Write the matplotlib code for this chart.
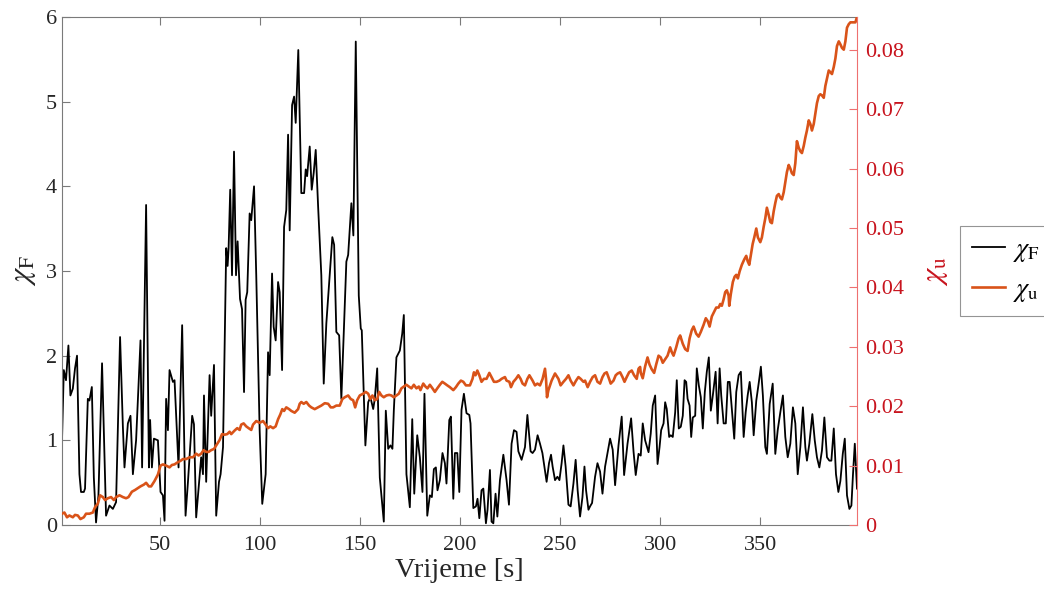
import matplotlib
matplotlib.use("Agg")
import matplotlib.pyplot as plt
from matplotlib.ticker import FuncFormatter

plt.rcParams['font.family'] = ['Liberation Serif', 'DejaVu Serif']
plt.rcParams['mathtext.fontset'] = 'stix'

# chi_F (black) : time [s] and value
tF = [1.3, 2.2, 3.3, 4.5, 5.5, 6.7, 7.8, 8.8, 10.0, 10.8, 12.2, 12.8, 14.2, 15.0, 16.2, 17.2, 18.3, 19.5,
      21.3, 23.3, 25.0, 26.7, 28.3, 30.3, 31.7, 32.5, 34.2, 35.5, 36.7, 38.3, 40.5, 41.3, 43.3, 44.7, 45.3,
      46.2, 47.2, 49.2, 50.5, 51.7, 52.5, 53.3, 54.2, 55.0, 56.7, 57.5, 59.5, 61.3, 63.0, 64.2, 66.3, 67.2,
      68.3, 69.2, 70.8, 71.7, 72.2, 73.3, 75.0, 75.8, 77.2, 78.3, 79.7, 80.5, 81.7, 83.3, 84.0, 84.5, 85.3,
      86.2, 87.2, 88.2, 89.0, 90.2, 91.2, 92.2, 93.0, 93.8, 95.0, 95.8, 97.2,
      98.3, 100.0, 101.3, 103.0, 104.2, 105.0, 106.2, 107.0, 108.0, 109.2, 110.0, 111.2, 112.2, 113.3,
      114.2, 115.0, 116.2, 117.2, 118.0, 119.3, 120.8, 122.2, 123.0, 123.7, 125.0, 126.0, 127.0, 128.0,
      129.2, 130.8, 132.0, 133.3, 135.0, 136.3, 137.2, 138.3, 139.7, 140.8, 143.3, 144.2, 145.8, 146.8,
      148.0, 149.5, 150.5, 151.0, 152.8, 154.2, 155.3, 156.7, 157.5, 158.7, 160.0, 162.0, 163.0, 164.2,
      165.3, 166.3, 167.0, 168.3, 170.0, 171.2, 172.0, 173.3, 175.0, 176.2, 177.2, 178.7, 180.0, 181.3,
      182.3, 183.7, 185.0, 186.0, 187.0, 188.0, 188.8,
      190.0, 191.3, 192.5, 193.3, 194.7, 195.5, 196.7, 197.5, 198.7, 199.7, 200.8, 202.0, 203.3, 204.7,
      205.3, 206.7, 208.0, 208.8, 209.7, 210.8, 211.7, 213.0, 213.8, 215.0, 215.8, 216.7, 217.8, 218.7,
      220.0, 221.7, 223.3, 224.5, 225.8, 227.0, 228.3, 229.2, 230.8, 232.5, 233.7, 235.3, 236.3, 237.5,
      238.8, 240.0, 241.2, 242.2, 243.3, 244.5, 245.5, 246.3, 247.5, 248.7, 249.7, 250.8, 251.7, 252.8,
      254.2, 255.3, 256.7, 257.8, 258.8, 260.0, 261.2, 262.2, 263.0, 264.2, 265.0, 266.0, 267.5, 268.7,
      270.0, 271.2, 272.5, 273.7, 275.0, 276.3, 277.5, 279.2, 280.8, 282.0, 283.7, 285.5, 286.7, 287.8,
      289.2, 290.3, 291.3, 292.5, 294.2, 295.3, 296.3, 297.5, 298.7, 299.7, 300.5, 301.7, 302.5, 303.3,
      304.5, 305.3, 306.3, 307.5, 308.3, 309.3, 310.3, 311.3, 312.2, 313.0, 313.7, 314.7, 315.5, 316.3,
      317.5, 318.3, 319.3, 320.3, 321.3, 322.3, 323.3, 324.3, 325.3, 326.3, 327.7, 328.7, 329.7, 330.5,
      331.7, 332.8, 333.8, 334.7, 335.8, 337.0, 338.0, 339.2, 340.3, 341.7, 342.7, 343.7, 344.7, 345.8,
      346.7, 348.0, 349.3, 350.3, 351.3, 352.5, 353.3, 354.7, 356.2, 357.5, 358.7, 360.0, 361.3, 362.5,
      363.7, 365.0, 366.3, 367.5, 368.7, 370.0, 371.3, 372.5, 373.3, 374.5, 376.0, 377.2, 378.3, 379.5,
      380.8, 382.0, 383.3, 384.5, 385.5, 386.7, 387.8, 389.0, 390.0, 391.2, 392.2, 393.3, 394.5, 395.5,
      396.3, 397.2, 398.3]
chiF = [1.00, 1.83, 1.71, 2.12, 1.53, 1.61, 1.85, 2.00, 0.60, 0.39, 0.39, 0.43, 1.49, 1.47, 1.63, 0.56, 0.03, 0.35,
        1.91, 0.11, 0.23, 0.19, 0.27, 2.22, 1.16, 0.68, 1.20, 1.29, 0.60, 1.00, 2.18, 0.68, 3.78, 0.68, 1.24,
        0.68, 1.02, 1.00, 0.39, 0.35, 0.05, 1.49, 1.12, 1.83, 1.69, 1.71, 0.68, 2.36, 0.11, 0.51, 1.29, 1.19,
        0.09, 0.35, 0.80, 0.60, 1.53, 0.51, 1.77, 1.29, 1.89, 0.11, 0.51, 0.60, 0.92, 3.27, 3.06, 3.27, 3.96,
        2.95, 4.41, 2.95, 3.35, 2.67, 2.55, 1.57, 2.66, 2.75, 3.68, 3.60, 4.00,
        2.95, 1.12, 0.25, 0.60, 2.04, 1.77, 2.97, 2.34, 2.18, 2.87, 2.75, 1.83, 3.52, 3.72,
        4.61, 3.48, 4.96, 5.06, 4.75, 5.61, 3.92, 3.92, 4.20, 4.12, 4.47, 3.96, 4.16, 4.43,
        3.76, 2.95, 1.67, 2.38, 2.95, 3.40, 3.31, 2.28, 2.24, 1.49, 3.11, 3.19, 3.80, 3.42,
        5.71, 2.71, 2.32, 2.30, 0.94, 1.45, 1.51, 1.37, 1.49, 1.85, 0.56, 0.04, 1.35, 0.90,
        0.94, 0.90, 1.35, 1.98, 2.06, 2.26, 2.48, 0.60, 0.21, 1.25, 0.37, 1.06, 0.80, 0.39,
        1.55, 0.11, 0.35, 0.33, 0.66, 0.68, 0.41,
        0.53, 0.85, 0.73, 0.49, 1.24, 1.28, 0.31, 0.85, 0.85, 0.39, 1.36, 1.55, 1.32, 1.30,
        1.20, 0.20, 0.22, 0.31, 0.08, 0.41, 0.43, 0.02, 0.18, 0.65, 0.04, 0.02, 0.37, 0.10,
        0.53, 0.83, 0.53, 0.24, 0.96, 1.12, 1.10, 0.87, 0.77, 0.92, 1.30, 0.87, 0.85, 0.89,
        1.06, 0.96, 0.85, 0.69, 0.51, 0.73, 0.83, 0.69, 0.53, 0.57, 0.53, 0.73, 0.94, 0.69,
        0.24, 0.22, 0.49, 0.77, 0.41, 0.10, 0.33, 0.69, 0.41, 0.18, 0.22, 0.26, 0.57, 0.73,
        0.63, 0.37, 0.69, 0.85, 1.02, 0.89, 0.47, 0.94, 1.28, 0.59, 0.96, 1.26, 0.87, 0.59,
        0.84, 0.82, 1.20, 1.00, 0.86, 1.08, 1.41, 1.53, 0.72, 0.92, 1.12, 1.20, 1.45, 1.37,
        1.04, 1.06, 1.04, 1.33, 1.71, 1.14, 1.16, 1.29, 1.71, 1.69, 1.49, 1.41, 1.04, 1.27,
        1.29, 1.85, 1.65, 1.51, 1.14, 1.57, 1.81, 1.98, 1.35, 1.53, 1.81, 1.20, 1.85, 1.53,
        1.20, 1.20, 1.69, 1.69, 1.37, 1.02, 1.57, 1.77, 1.81, 1.04, 1.33, 1.53, 1.69, 1.45,
        1.06, 1.47, 1.69, 1.87, 1.53, 0.92, 0.84, 1.43, 1.67, 0.84, 1.12, 1.33, 1.53, 1.04,
        0.80, 0.96, 1.39, 1.20, 0.60, 0.92, 1.39, 0.92, 0.76, 0.96, 1.31, 1.00, 0.80, 0.68,
        0.88, 1.27, 0.80, 0.76, 0.76, 1.14, 0.60, 0.39, 0.52, 0.84, 1.02, 0.35, 0.19, 0.23,
        0.60, 0.96, 0.43]

# chi_u (orange) : time [s] and value
tU = [1.3, 2.5, 3.8, 5.0, 6.7, 7.8, 9.2, 10.5, 12.2, 13.3, 15.0, 16.7, 17.8, 19.2, 20.3, 21.7, 22.8, 24.2,
      25.8, 27.2, 28.3, 30.0, 31.7, 33.3, 34.5, 36.2, 37.8, 39.2, 40.5, 42.2, 43.3, 44.7, 45.8, 47.5, 49.2,
      50.5, 51.7, 53.3, 55.0, 56.2, 57.5, 58.8, 60.5, 61.7, 63.3, 65.0, 66.7, 68.3, 69.5, 70.8, 72.0, 73.3,
      74.5, 75.8, 77.2, 78.3, 80.0, 81.2, 82.5, 83.8, 85.0, 85.8, 87.5, 88.8, 90.0, 90.8, 92.0, 93.3, 94.5,
      95.8, 96.7, 98.3, 100.0, 101.7, 103.0, 104.2, 105.3, 106.7, 108.0, 109.2, 110.3, 111.3, 112.2, 113.3,
      114.7, 115.8, 117.5, 119.2, 120.0, 120.8, 122.0, 123.3, 124.7, 125.8, 127.5, 129.2, 130.8, 132.5,
      134.2, 135.5, 136.7, 138.3, 140.0, 141.3, 142.5, 144.2, 145.5, 146.7, 147.7, 148.7, 150.0, 151.7,
      153.0, 154.2, 155.3, 156.3, 157.5, 158.7, 159.7, 160.8, 162.0, 163.3, 164.7, 165.8, 167.0, 168.3,
      169.5, 170.8, 172.0, 173.3, 174.5, 175.8, 177.0, 178.3, 179.5, 180.3, 181.7, 182.8, 183.8, 185.0,
      186.3, 187.5, 188.7, 190.0, 191.2,
      192.5, 193.7, 195.0, 196.7, 198.0, 199.2, 200.5, 201.7, 203.0, 205.0, 206.3, 207.0, 207.8, 208.7,
      209.7, 210.8, 212.0, 213.3, 214.7, 215.8, 217.0, 218.3, 219.7, 220.8, 222.5, 223.3, 224.7, 225.5,
      226.7, 228.0, 229.2, 230.3, 231.3, 232.5, 233.7, 234.7, 236.3, 237.5, 238.7, 240.0, 241.3, 242.5,
      243.0, 243.5, 244.2, 245.8, 247.5, 249.2, 250.3, 251.7, 253.0, 254.2, 255.3, 256.7, 258.0, 259.2,
      260.3, 261.7, 262.5, 263.8, 265.0, 266.3, 267.5, 268.7, 270.0, 271.2, 272.2, 273.3, 274.5, 275.3,
      276.7, 277.8, 278.8, 280.0, 281.2, 282.2, 283.3, 284.5, 285.8, 287.0, 288.3, 289.2, 290.0,
      290.3, 291.3, 292.5, 293.7, 294.7, 295.8, 297.0, 298.0, 299.2, 300.3, 301.3, 302.5, 303.7, 305.0,
      305.8, 306.7, 308.0, 309.2, 310.0, 311.3, 312.5, 313.7, 314.7, 315.8, 316.7, 318.0, 319.2, 320.3,
      321.7, 322.8, 323.8, 324.7, 325.8, 326.7, 328.0, 329.2, 330.0, 330.8, 331.7, 332.5, 333.3, 334.2,
      334.5, 335.3, 336.3, 337.2, 338.0, 338.8, 339.7, 340.8, 342.0, 343.0, 343.7, 344.5, 345.3, 346.2,
      347.0, 348.0, 348.8, 350.0, 350.8, 351.7, 352.5, 353.3, 354.2, 355.0, 355.8, 356.7, 357.5, 358.3,
      359.2, 360.0, 360.8, 361.7, 362.5, 363.3, 364.2, 365.0, 365.8, 366.7, 367.5, 368.3, 369.2, 370.0,
      370.8, 371.7, 372.5, 373.3, 374.2, 375.0, 375.8, 376.7, 377.5, 378.3, 379.2, 380.0, 380.8, 381.7,
      382.5, 383.3, 384.2, 385.0, 385.8, 386.7, 387.5, 388.3, 389.2, 390.0, 390.8, 391.7, 392.5, 393.3,
      394.2, 395.0, 395.8, 396.7, 397.5, 398.3]
chiU = [0.0019, 0.0021, 0.0013, 0.0016, 0.0013, 0.0017, 0.0016, 0.0010, 0.0013, 0.0019, 0.0019, 0.0021, 0.0030,
        0.0036, 0.0050, 0.0047, 0.0042, 0.0045, 0.0047, 0.0042, 0.0047, 0.0050, 0.0047, 0.0045, 0.0047, 0.0056,
        0.0059, 0.0062, 0.0065, 0.0068, 0.0071, 0.0065, 0.0065, 0.0074, 0.0085, 0.0100, 0.0102, 0.0100, 0.0097,
        0.0101, 0.0102, 0.0105, 0.0108, 0.0111, 0.0111, 0.0114, 0.0114, 0.0120, 0.0117, 0.0120, 0.0126, 0.0123,
        0.0123, 0.0126, 0.0128, 0.0134, 0.0143, 0.0153, 0.0152, 0.0153, 0.0157, 0.0153, 0.0159, 0.0163, 0.0160,
        0.0169, 0.0171, 0.0166, 0.0163, 0.0160, 0.0169, 0.0175, 0.0172, 0.0175, 0.0169, 0.0163, 0.0166, 0.0163,
        0.0166, 0.0178, 0.0186, 0.0195, 0.0192, 0.0198, 0.0195, 0.0192, 0.0189, 0.0195, 0.0204, 0.0207, 0.0204,
        0.0207, 0.0201, 0.0198, 0.0195, 0.0198, 0.0201, 0.0205, 0.0204, 0.0198, 0.0198, 0.0201, 0.0201, 0.0212,
        0.0215, 0.0218, 0.0212, 0.0210, 0.0198, 0.0210, 0.0218, 0.0221, 0.0224, 0.0221, 0.0212, 0.0218, 0.0210,
        0.0212, 0.0224, 0.0218, 0.0215, 0.0218, 0.0219, 0.0218, 0.0215, 0.0218, 0.0221, 0.0230, 0.0233, 0.0236,
        0.0233, 0.0230, 0.0236, 0.0230, 0.0233, 0.0227, 0.0238, 0.0233, 0.0230, 0.0236, 0.0230, 0.0224, 0.0230,
        0.0236, 0.0241,
        0.0238, 0.0235, 0.0232, 0.0227, 0.0232, 0.0238, 0.0243, 0.0241, 0.0235, 0.0235, 0.0246, 0.0257, 0.0252,
        0.0260, 0.0252, 0.0241, 0.0246, 0.0246, 0.0256, 0.0249, 0.0241, 0.0241, 0.0243, 0.0246, 0.0249, 0.0243,
        0.0241, 0.0232, 0.0241, 0.0246, 0.0252, 0.0246, 0.0238, 0.0235, 0.0246, 0.0252, 0.0243, 0.0235, 0.0238,
        0.0235, 0.0246, 0.0263, 0.0246, 0.0215, 0.0227, 0.0243, 0.0255, 0.0246, 0.0235, 0.0241, 0.0246, 0.0252,
        0.0243, 0.0235, 0.0243, 0.0249, 0.0246, 0.0241, 0.0243, 0.0232, 0.0241, 0.0249, 0.0252, 0.0241, 0.0238,
        0.0249, 0.0255, 0.0257, 0.0246, 0.0238, 0.0243, 0.0252, 0.0255, 0.0257, 0.0249, 0.0241, 0.0249, 0.0257,
        0.0260, 0.0252, 0.0246, 0.0263, 0.0266,
        0.0256, 0.0247, 0.0267, 0.0282, 0.0270, 0.0262, 0.0256, 0.0270, 0.0285, 0.0282, 0.0273, 0.0279, 0.0285,
        0.0299, 0.0291, 0.0285, 0.0299, 0.0314, 0.0319, 0.0305, 0.0296, 0.0293, 0.0314, 0.0328, 0.0334, 0.0322,
        0.0317, 0.0325, 0.0337, 0.0348, 0.0343, 0.0334, 0.0351, 0.0357, 0.0366, 0.0366, 0.0372, 0.0369, 0.0380,
        0.0392, 0.0395, 0.0386, 0.0369, 0.0389, 0.0409, 0.0418, 0.0421, 0.0415, 0.0427, 0.0438, 0.0447, 0.0453,
        0.0444, 0.0438, 0.0455, 0.0473, 0.0484, 0.0499, 0.0484, 0.0476, 0.0484, 0.0502, 0.0516, 0.0534, 0.0522,
        0.0510, 0.0508, 0.0528, 0.0542, 0.0554, 0.0557, 0.0551, 0.0548, 0.0560, 0.0577, 0.0594, 0.0606, 0.0600,
        0.0592, 0.0589, 0.0609, 0.0646, 0.0635, 0.0629, 0.0626, 0.0638, 0.0652, 0.0664, 0.0681, 0.0675, 0.0664,
        0.0675, 0.0693, 0.0710, 0.0722, 0.0725, 0.0723, 0.0719, 0.0739, 0.0751, 0.0765, 0.0762, 0.0759, 0.0771,
        0.0785, 0.0806, 0.0814, 0.0809, 0.0803, 0.0800, 0.0814, 0.0837, 0.0843, 0.0846, 0.0846, 0.0846, 0.0846,
        0.0855]

xticks = [50, 100, 150, 200, 250, 300, 350]
yticks_left = [0, 1, 2, 3, 4, 5, 6]
yticks_right = [0, 0.01, 0.02, 0.03, 0.04, 0.05, 0.06, 0.07, 0.08]

W, H = 1044, 596
fig = plt.figure(figsize=(W / 100, H / 100), dpi=100)
ax = fig.add_axes([62 / W, 1 - 525 / H, (857 - 62) / W, (525 - 17) / H])
ax2 = ax.twinx()

spine_gray = '#7a7a7a'
txt_dark = '#262626'
red_txt = '#C8141E'
red_spine = '#EE7070'
orange = '#D95319'

lF, = ax.plot(tF, chiF, color='black', lw=1.3, label=r'$\chi_{\mathrm{F}}$')
lU, = ax2.plot(tU, chiU, color=orange, lw=1.9, label=r'$\chi_{\mathrm{u}}$')

ax.set_xlim(tF[0], tF[-1])
ax.set_ylim(0, 6)
ax2.set_ylim(0, max(chiU))
ax.set_xticks(xticks)
ax.set_yticks(yticks_left)
ax2.set_yticks(yticks_right)
ax2.yaxis.set_major_formatter(FuncFormatter(lambda v, p: '0' if abs(v) < 1e-9 else f'{v:.2f}'))

for s in ['left', 'bottom', 'top']:
    ax.spines[s].set_color(spine_gray)
    ax.spines[s].set_linewidth(0.8)
ax.spines['right'].set_visible(False)
for s in ['left', 'bottom', 'top']:
    ax2.spines[s].set_visible(False)
ax2.spines['right'].set_color(red_spine)
ax2.spines['right'].set_linewidth(0.8)

ax.tick_params(axis='both', direction='in', length=6, width=0.8, color=spine_gray,
               labelsize=16, labelcolor=txt_dark, top=True, right=False)
ax.tick_params(axis='x', pad=8)
ax2.tick_params(axis='y', direction='in', length=6, width=0.8, color=red_spine,
                labelsize=16, labelcolor=red_txt, pad=6)

ax.set_xlabel('Vrijeme [s]', fontsize=20.5, color=txt_dark, labelpad=2)
ax.set_ylabel(r'$\chi_{\mathrm{F}}$', fontsize=22, color=txt_dark, labelpad=6)
ax2.set_ylabel(r'$\chi_{\mathrm{u}}$', fontsize=22, color=red_txt, labelpad=12)

leg = fig.legend(handles=[lF, lU], loc='center left', bbox_to_anchor=(960 / W, 1 - 271 / H),
                 fontsize=19, frameon=True, fancybox=False, edgecolor=spine_gray,
                 handlelength=1.25, handletextpad=0.3, borderpad=0.45, labelspacing=0.5,
                 borderaxespad=0)
leg.get_frame().set_linewidth(0.8)

fig.savefig('out.png', dpi=100)
